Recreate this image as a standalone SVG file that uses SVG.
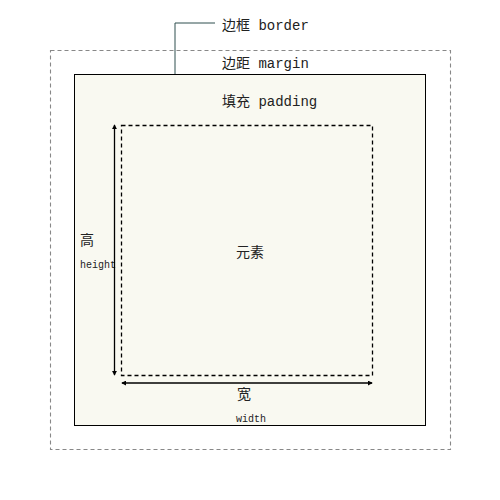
<svg xmlns="http://www.w3.org/2000/svg" width="500" height="500" viewBox="0 0 500 500">
<style>
text{font-family:"Liberation Mono","Noto Sans CJK SC",monospace;fill:#222;font-size:14px}
.sm{font-size:10px}
.dim{stroke:#000;stroke-width:1.3;fill:none}
</style>
<defs>
<marker id="ah" viewBox="0 0 6 6" refX="5" refY="3" markerWidth="5" markerHeight="5" orient="auto-start-reverse" markerUnits="userSpaceOnUse">
<path d="M0,0 L6,3 L0,6 Z" fill="#000"/>
</marker>
</defs>
<rect width="500" height="500" fill="#fff"/>
<g id="margin">
<rect x="50.5" y="50.5" width="400" height="399" fill="none" stroke="#888" stroke-width="1.1" stroke-dasharray="4,3"/>
<text x="222" y="68">边距 margin</text>
</g>
<g id="border">
<rect x="74.5" y="74.5" width="351" height="351" fill="#f9f9f1" stroke="#000"/>
<text x="222" y="30">边框 border</text>
</g>
<g id="padding">
<text x="222" y="106">填充 padding</text>
</g>
<g id="element">
<rect x="121.5" y="125.5" width="251" height="250" fill="none" stroke="#000" stroke-width="1.3" stroke-dasharray="4,3"/>
<text x="236" y="257">元素</text>
</g>
<g id="height">
<text x="80" y="245">高</text>
<text x="80" y="268" class="sm">height</text>
</g>
<g id="width">
<text x="237" y="399">宽</text>
<text x="236" y="422" class="sm">width</text>
</g>
<g id="connectors">
<polyline points="175,74 175,23 215,23" fill="none" stroke="#2f4f4f" stroke-width="1"/>
<line x1="114.5" y1="125" x2="114.5" y2="375" class="dim" marker-start="url(#ah)" marker-end="url(#ah)"/>
<line x1="122" y1="383" x2="372" y2="383" class="dim" marker-start="url(#ah)" marker-end="url(#ah)"/>
</g>
</svg>
